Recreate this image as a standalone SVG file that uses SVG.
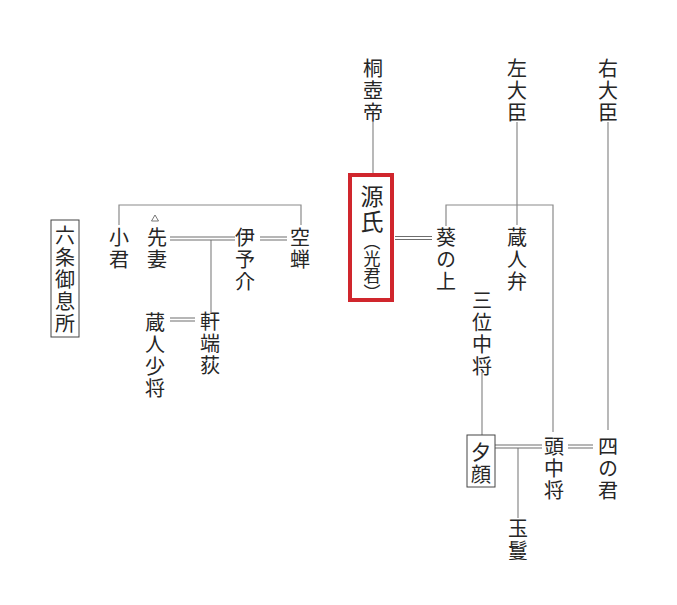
<svg xmlns="http://www.w3.org/2000/svg" width="677" height="605" viewBox="0 0 677 605">
<style>
.t{font-family:"Noto Sans CJK JP",sans-serif;font-size:20px;font-weight:400;fill:#262626;writing-mode:vertical-rl;letter-spacing:2px}
.big{font-size:23px;letter-spacing:2px}
.sm{font-size:17px;letter-spacing:0px;font-feature-settings:"vhal"}
.l{stroke:#8a8a8a;stroke-width:1.2;fill:none}
.d{stroke:#6e6e6e;stroke-width:1.1;fill:none}
.box{fill:none;stroke:#444;stroke-width:1}
</style>
<rect width="677" height="605" fill="#fff"/>
<g id="connectors">
<path class="l" d="M373 122V173M517 122V225M608 122V430M446 226V205H553V432M119 225V205H301V225M211 240V312M482 372V435M518 448V518"/>
<path class="d" d="M395 236.5H432M395 239.5H432M170 237H235M170 240H235M260 237H287M260 240H287M170 318H195M170 321H195M495 445H542M495 448H542M568 445H593M568 448H593"/>
</g>
<g id="kiritsubo"><text class="t" x="373" y="58">桐壺帝</text></g>
<g id="sadaijin"><text class="t" x="517" y="58">左大臣</text></g>
<g id="udaijin"><text class="t" x="608" y="58">右大臣</text></g>
<g id="genji">
<rect x="350" y="175" width="42" height="125" fill="none" stroke="#d0262d" stroke-width="4"/>
<text class="t big" x="372" y="184.5">源氏</text>
<text class="t sm" x="372" y="242">（光君）</text>
</g>
<g id="aoi"><text class="t" x="446" y="227">葵の上</text></g>
<g id="kurodonoben"><text class="t" x="517" y="227">蔵人弁</text></g>
<g id="rokujo"><rect class="box" x="51" y="220" width="28" height="117"/><text class="t" x="65" y="225">六条御息所</text></g>
<g id="kogimi"><text class="t" x="119" y="227">小君</text></g>
<g id="sensai"><polygon points="155,215 158.5,221 151.5,221" fill="none" stroke="#555" stroke-width="0.8"/><text class="t" x="157" y="227">先妻</text></g>
<g id="iyonosuke"><text class="t" x="245" y="227">伊予介</text></g>
<g id="utsusemi"><text class="t" x="300" y="227">空蝉</text></g>
<g id="nokibanoogi"><text class="t" x="210" y="311">軒端荻</text></g>
<g id="kurodonoshosho"><text class="t" x="155" y="312">蔵人少将</text></g>
<g id="sanminochujo"><text class="t" x="482" y="290">三位中将</text></g>
<g id="yugao"><rect class="box" x="467" y="435" width="28" height="52"/><text class="t" x="481" y="442">夕顔</text></g>
<g id="tonochujo"><text class="t" x="554" y="436">頭中将</text></g>
<g id="shinokimi"><text class="t" x="608" y="436">四の君</text></g>
<g id="tamakazura"><text class="t" x="518" y="518">玉鬘</text></g>
</svg>
